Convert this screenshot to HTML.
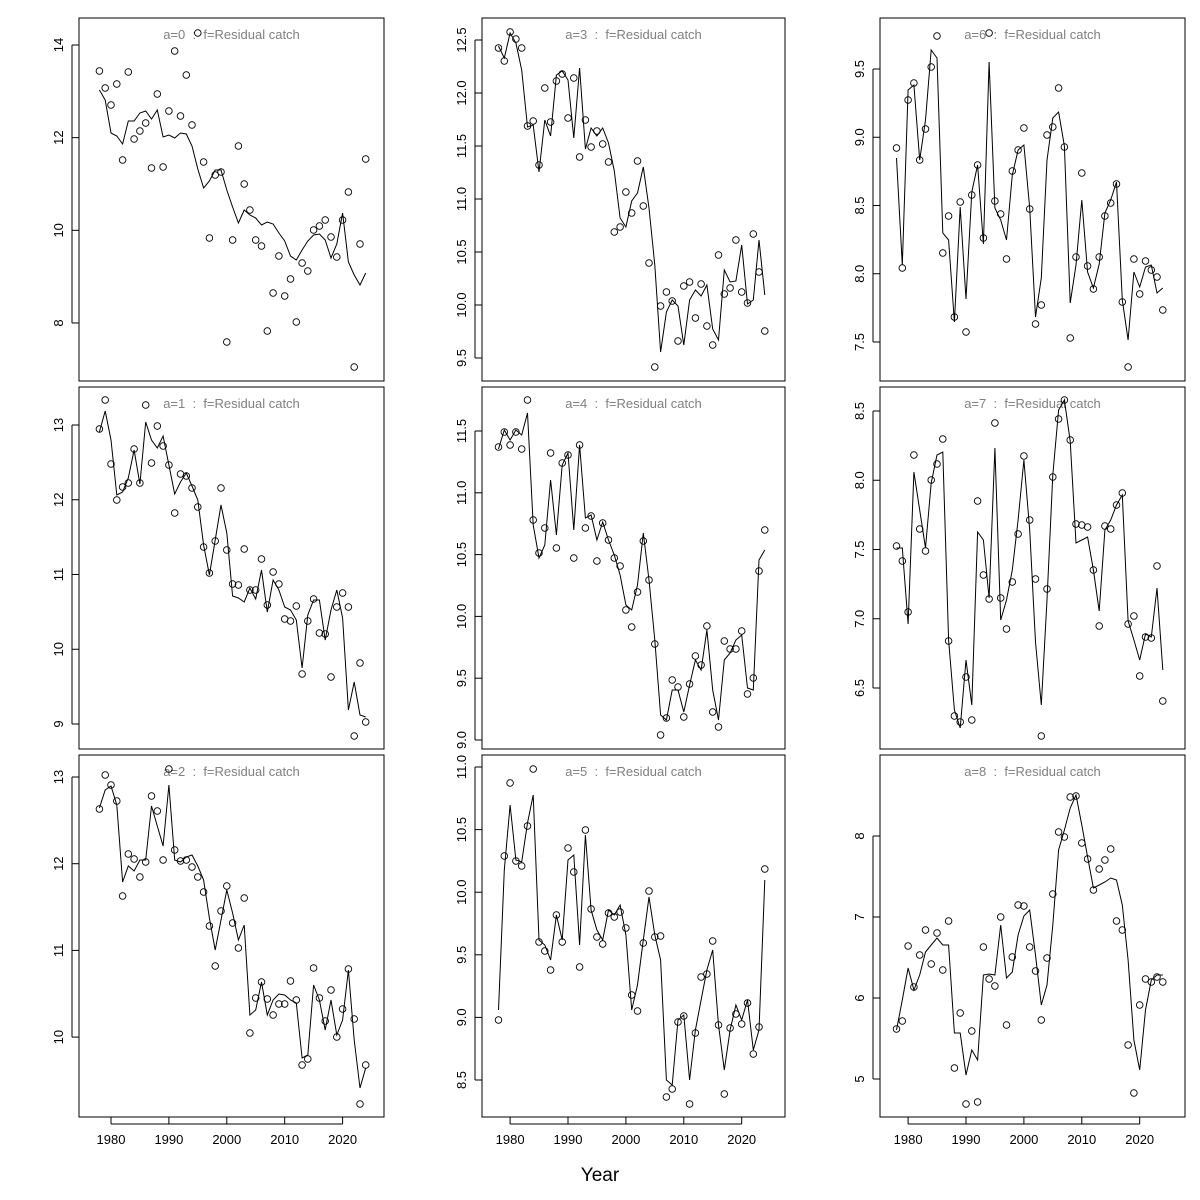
<!DOCTYPE html>
<html><head><meta charset="utf-8"><style>
html,body{margin:0;padding:0;background:#fff;}
svg{display:block;font-family:"Liberation Sans",sans-serif;}
</style></head><body>
<svg id="s" width="1200" height="1200" xmlns="http://www.w3.org/2000/svg"></svg>
<script>
const cols=[[79,384,99.4],[482,785,498.5],[880,1185,896.5]];
const rows=[[18,381],[387,749],[755,1117]];
const P=[
{r:0,c:0,a:0,top:45,tv:14,sc:46.33,ticks:[8,10,12,14],dec:0,
pts:[71,88,105,84,160,72,139,131,123,168,94,167,111,51,116,75,125,33,162,238,175,172,342,240,146,184,210,240,246,331,293,256,296,279,322,263,271,230,226,220,237,257,220,192,367,244,159],
ln:[90,100,133,136,144,121,121,113,111,119,110,137,135,138,133,134,146,169,188,181,170,170,190,207,223,210,215,218,225,222,224,233,241,256,260,250,241,235,234,240,258,244,213,262,275,285,273]},
{r:0,c:1,a:3,top:40,tv:12.5,sc:106,ticks:[9.5,10,10.5,11,11.5,12,12.5],dec:1,
pts:[48,61,32,39,48,126,121,165,88,122,81,74,118,78,157,120,147,131,144,162,232,227,192,213,161,206,263,367,306,292,301,341,286,282,318,284,326,345,255,294,288,240,292,303,234,272,331],
ln:[46,58,33,43,70,127,125,172,120,136,75,71,80,138,68,149,128,136,128,143,171,218,227,201,193,167,208,265,352,312,300,306,345,300,290,296,285,329,340,270,282,281,245,304,300,240,295]},
{r:0,c:2,a:6,top:69,tv:9.5,sc:136.5,ticks:[7.5,8,8.5,9,9.5],dec:1,
pts:[148,268,100,83,160,129,67,36,253,216,317,202,332,195,165,238,33,201,214,259,171,150,128,209,324,305,135,127,88,147,338,257,173,266,289,257,216,203,184,302,367,259,294,261,270,277,310],
ln:[158,265,90,85,160,120,50,58,233,240,322,207,299,192,165,244,62,208,220,240,175,150,145,208,317,278,160,118,112,146,303,265,200,272,288,264,213,200,182,300,340,272,287,267,265,293,288]},
{r:1,c:0,a:1,top:425,tv:13,sc:74.75,ticks:[9,10,11,12,13],dec:0,
pts:[429,400,464,500,487,483,449,483,405,463,426,446,465,513,474,476,488,507,547,573,541,488,550,584,585,549,590,590,559,605,572,584,619,621,606,674,621,599,633,634,677,607,593,607,736,663,722],
ln:[432,411,440,495,492,478,450,484,422,440,448,436,465,494,482,473,486,500,545,575,540,505,533,596,598,602,588,599,570,612,580,590,607,610,620,668,615,600,600,640,610,590,618,710,682,715,717]},
{r:1,c:1,a:4,top:431,tv:11.5,sc:123.6,ticks:[9,9.5,10,10.5,11,11.5],dec:1,
pts:[447,432,445,432,449,400,520,553,528,453,548,463,455,558,445,528,516,561,523,540,558,566,610,627,592,541,580,644,735,718,680,687,717,684,656,665,626,712,727,641,649,649,631,694,678,571,530],
ln:[449,430,440,430,435,413,525,558,545,480,535,465,453,530,445,518,515,540,522,540,555,575,605,610,585,533,580,640,715,720,690,690,712,685,660,670,630,690,720,660,653,640,635,688,690,560,550]},
{r:1,c:2,a:7,top:411,tv:8.5,sc:138.5,ticks:[6.5,7,7.5,8,8.5],dec:1,
pts:[546,561,612,455,529,551,480,464,439,641,716,722,677,720,501,575,599,423,598,629,582,534,456,520,579,736,589,477,419,400,440,524,525,527,570,626,526,529,505,493,624,616,676,637,638,566,701],
ln:[548,548,624,472,510,548,483,455,452,640,710,728,660,705,532,540,598,448,620,600,570,520,460,530,642,705,600,475,410,400,441,543,540,537,570,611,530,520,505,495,621,640,660,634,637,588,670]},
{r:2,c:0,a:2,top:777,tv:13,sc:86.7,ticks:[10,11,12,13],dec:0,
pts:[809,775,785,801,896,854,859,877,862,796,811,860,769,850,861,860,867,877,892,926,966,911,886,923,948,898,1033,998,982,999,1015,1004,1004,981,1000,1065,1059,968,998,1021,990,1037,1009,969,1019,1104,1065],
ln:[808,790,786,805,882,866,871,860,860,806,826,846,785,860,862,857,855,866,880,918,950,920,890,913,940,925,1015,1010,982,1015,1000,994,995,1000,1003,1058,1055,985,1000,1030,1000,1035,1020,970,1040,1088,1068]},
{r:2,c:1,a:5,top:767,tv:11,sc:125.2,ticks:[8.5,9,9.5,10,10.5,11],dec:1,
pts:[1020,856,783,861,866,826,769,942,951,970,915,942,848,872,967,830,909,937,944,913,917,912,928,995,1011,943,891,937,936,1097,1089,1022,1016,1104,1033,977,974,941,1025,1094,1028,1014,1024,1003,1054,1027,869],
ln:[1010,870,805,860,862,823,795,940,945,960,915,940,860,855,945,835,910,930,940,910,915,905,935,1010,985,940,897,935,960,1080,1085,1020,1015,1080,1030,1000,970,950,1025,1070,1030,1005,1020,1000,1050,1030,880]},
{r:2,c:2,a:8,top:836,tv:8,sc:81,ticks:[5,6,7,8],dec:0,
pts:[1029,1021,946,987,955,930,964,933,970,921,1068,1013,1104,1031,1102,947,979,986,917,1025,957,905,906,947,971,1020,958,894,832,837,797,796,843,859,890,869,860,849,921,930,1045,1093,1005,979,982,977,982],
ln:[1030,1000,968,990,975,952,945,938,945,945,1033,1033,1075,1050,1060,975,974,975,925,978,972,935,916,910,955,1005,985,925,850,830,808,795,825,857,888,885,882,878,880,905,960,1040,1070,1010,980,975,975]}
];
let h='';
for(const p of P){
 const [x0,x1,bx]=cols[p.c],[y0,y1]=rows[p.r];
 h+=`<rect x="${x0}" y="${y0}" width="${x1-x0}" height="${y1-y0}" fill="none" stroke="#000" stroke-width="1"/>`;
 h+=`<text x="${(x0+x1)/2}" y="${y0+21}" font-size="13" fill="#808080" text-anchor="middle">a=${p.a}&#160;&#160;:&#160;&#160;f=Residual catch</text>`;
 for(const t of p.ticks){const y=p.top+(p.tv-t)*p.sc;
  h+=`<line x1="${x0-7}" x2="${x0}" y1="${y}" y2="${y}" stroke="#000"/>`;
  h+=`<text transform="translate(${x0-16},${y}) rotate(-90)" font-size="13" text-anchor="middle">${t.toFixed(p.dec)}</text>`;}
 const t0=p.top+(p.tv-p.ticks[0])*p.sc,t1=p.top+(p.tv-p.ticks[p.ticks.length-1])*p.sc;
 h+=`<line x1="${x0-7}" x2="${x0-7}" y1="${t0}" y2="${t1}" stroke="#000"/>`;
 const X=i=>bx+5.79*i;
 h+=`<polyline fill="none" stroke="#000" stroke-width="1" points="${p.ln.map((y,i)=>X(i).toFixed(1)+','+y).join(' ')}"/>`;
 for(let i=0;i<p.pts.length;i++)h+=`<circle cx="${X(i).toFixed(1)}" cy="${p.pts[i]}" r="3.3" fill="none" stroke="#000" stroke-width="0.9"/>`;
 if(p.r==2){const yb=y1;
  h+=`<line x1="${bx+11.6}" x2="${bx+11.6+4*57.9}" y1="${yb+7}" y2="${yb+7}" stroke="#000"/>`;
  for(let k=0;k<5;k++){const x=bx+11.6+k*57.9;
   h+=`<line x1="${x}" x2="${x}" y1="${yb}" y2="${yb+7}" stroke="#000"/>`;
   h+=`<text x="${x}" y="${yb+27}" font-size="13" text-anchor="middle">${1980+10*k}</text>`;}}
}
h+=`<text x="600" y="1181" font-size="19" text-anchor="middle">Year</text>`;
document.getElementById('s').innerHTML=h;
</script>
</body></html>
